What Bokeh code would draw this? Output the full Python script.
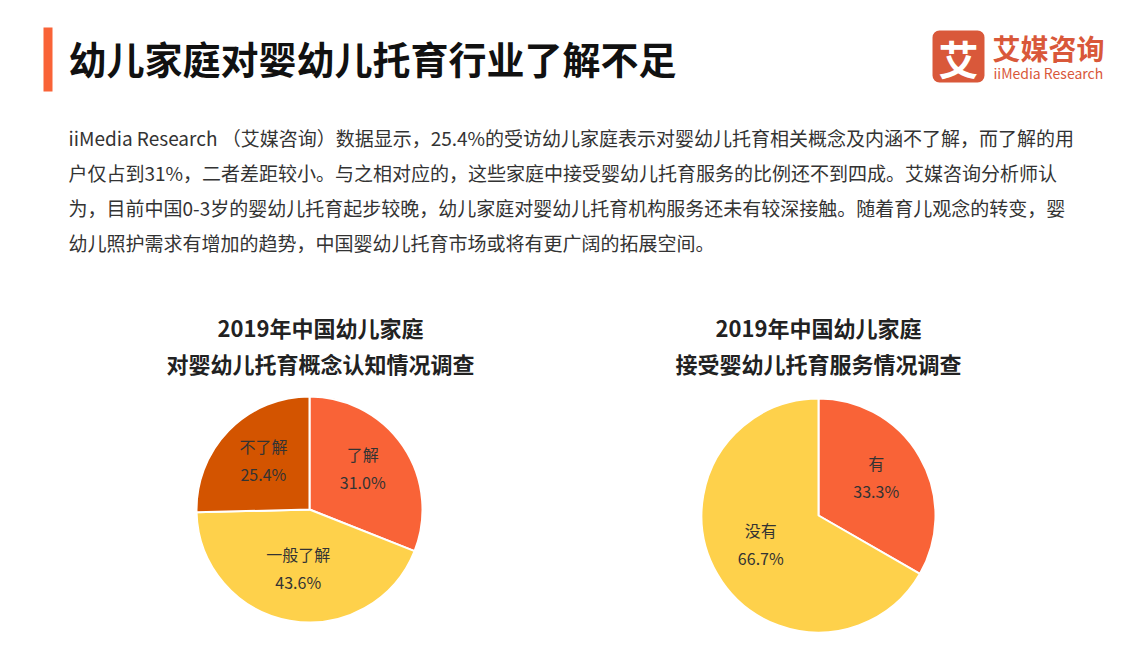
import math
from bokeh.plotting import figure
from bokeh.models import Range1d, ColumnDataSource
from bokeh.core.properties import value
from bokeh.embed import file_html
from bokeh.resources import INLINE

# ---- data ----
title_text = "幼儿家庭对婴幼儿托育行业了解不足"
paragraph_lines = [
    "iiMedia Research （艾媒咨询）数据显示，25.4%的受访幼儿家庭表示对婴幼儿托育相关概念及内涵不了解，而了解的用",
    "户仅占到31%，二者差距较小。与之相对应的，这些家庭中接受婴幼儿托育服务的比例还不到四成。艾媒咨询分析师认",
    "为，目前中国0-3岁的婴幼儿托育起步较晚，幼儿家庭对婴幼儿托育机构服务还未有较深接触。随着育儿观念的转变，婴",
    "幼儿照护需求有增加的趋势，中国婴幼儿托育市场或将有更广阔的拓展空间。",
]
left_title = ["2019年中国幼儿家庭", "对婴幼儿托育概念认知情况调查"]
left_labels = ["了解", "一般了解", "不了解"]
left_values = [31.0, 43.6, 25.4]
left_colors = ["#F96337", "#FED14B", "#D35400"]

right_title = ["2019年中国幼儿家庭", "接受婴幼儿托育服务情况调查"]
right_labels = ["有", "没有"]
right_values = [33.3, 66.7]
right_colors = ["#F96337", "#FED14B"]

W, H = 1117, 644
FONT = value("Noto Sans CJK SC")

def fx(X):
    return X

def fy(Y):
    return H - Y

p = figure(width=W, height=H, x_range=Range1d(0, W), y_range=Range1d(0, H),
           output_backend="svg", toolbar_location=None, min_border=0)
p.axis.visible = False
p.grid.visible = False
p.outline_line_color = None
p.background_fill_color = "white"
p.border_fill_color = "white"

# title bar
p.quad(left=[fx(43)], right=[fx(52)], top=[fy(27)], bottom=[fy(91)],
       fill_color="#F96337", line_color=None)
p.text(x=[fx(68)], y=[fy(57)], text=[title_text], text_font=FONT,
       text_font_size="38px", text_font_style="bold", text_color="#111111",
       text_baseline="middle", text_align="left")

# logo
p.quad(left=[fx(932)], right=[fx(984)], top=[fy(30)], bottom=[fy(82)],
       fill_color="#D9583A", line_color=None, border_radius=7)
p.text(x=[fx(958)], y=[fy(57)], text=["艾"], text_font=FONT,
       text_font_size="40px", text_font_style="bold", text_color="white",
       text_baseline="middle", text_align="center")
p.text(x=[fx(992)], y=[fy(47)], text=["艾媒咨询"], text_font=FONT,
       text_font_size="28px", text_font_style="bold", text_color="#D9583A",
       text_baseline="middle", text_align="left")
p.text(x=[fx(993)], y=[fy(72)], text=["iiMedia Research"], text_font=FONT,
       text_font_size="14px", text_color="#D9583A",
       text_baseline="middle", text_align="left")

# paragraph
for i, line in enumerate(paragraph_lines):
    p.text(x=[fx(68)], y=[fy(137 + 35 * i)], text=[line], text_font=FONT,
           text_font_size="19px", text_color="#333333",
           text_baseline="middle", text_align="left")

def draw_pie(cx, cy, R, labels, values, colors, titles, tx):
    total = sum(values)
    starts, ends, mids = [], [], []
    cum = 0.0
    for v in values:
        a0 = math.pi / 2 - cum / total * 2 * math.pi
        cum += v
        a1 = math.pi / 2 - cum / total * 2 * math.pi
        starts.append(a0)
        ends.append(a1)
        mids.append((a0 + a1) / 2)
    src = ColumnDataSource(dict(start=starts, end=ends, color=colors))
    p.wedge(x=fx(cx), y=fy(cy), radius=R, start_angle="start", end_angle="end",
            direction="clock", fill_color="color", line_color="white",
            line_width=2, source=src)
    lr = 0.57 * R
    lx = [fx(cx) + lr * math.cos(m) for m in mids]
    ly = [fy(cy) + lr * math.sin(m) + 5 for m in mids]
    p.text(x=lx, y=[y + 14 for y in ly], text=labels, text_font=FONT,
           text_font_size="16px", text_color="#333333",
           text_baseline="middle", text_align="center")
    p.text(x=lx, y=[y - 14 for y in ly], text=[f"{v:.1f}%" for v in values],
           text_font=FONT, text_font_size="16px", text_color="#333333",
           text_baseline="middle", text_align="center")
    for j, t in enumerate(titles):
        p.text(x=[fx(tx)], y=[fy(326 + 36 * j)], text=[t], text_font=FONT,
               text_font_size="22px", text_font_style="bold", text_color="#222222",
               text_baseline="middle", text_align="center")

draw_pie(309, 509, 113, left_labels, left_values, left_colors, left_title, 320)
draw_pie(818, 515, 117, right_labels, right_values, right_colors, right_title, 818)

open("out.html", "w").write(file_html(p, INLINE))
